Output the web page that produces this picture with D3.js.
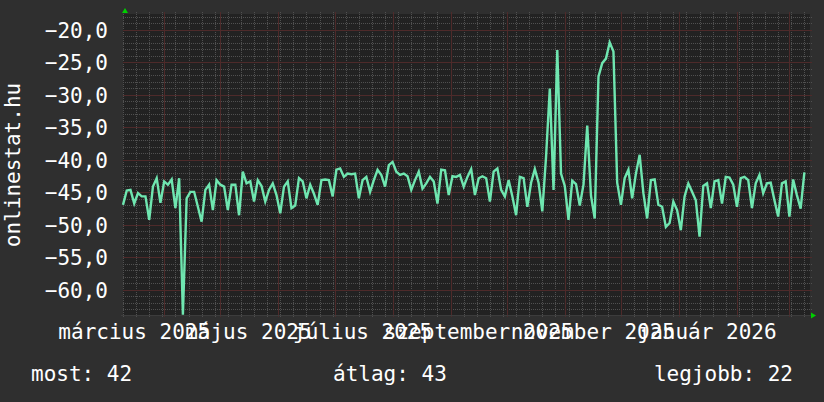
<!DOCTYPE html>
<html>
<head>
<meta charset="utf-8">
<script src="https://cdn.jsdelivr.net/npm/d3@7"></script>
<style>
  html, body { margin: 0; padding: 0; background: #2f2f2f; }
  svg text { font-family: "DejaVu Sans Mono", monospace; fill: #fff; }
</style>
</head>
<body>
<svg width="824" height="402"></svg>
<script>

// first sample date, one sample every 2 days
const startDate = new Date(2025, 2, 10);
const stepDays = 2;

// values (rank, drawn negated)
const rank = [
  -46.9, -44.7, -44.6, -46.7, -45.1, -45.6, -45.6, -49.2, -44.1, -42.8,
  -46.6, -43.3, -43.8, -43.0, -47.4, -42.8, -63.8, -45.9, -44.9, -44.9,
  -47.2, -49.5, -44.6, -43.8, -47.7, -43.1, -43.8, -44.1, -47.7, -43.8,
  -43.8, -48.5, -41.8, -43.6, -43.3, -46.4, -43.1, -44.0, -46.4, -44.6,
  -43.6, -45.4, -48.2, -44.1, -43.3, -47.4, -47.0, -42.8, -43.3, -45.9,
  -43.8, -45.2, -46.9, -43.1, -43.0, -43.1, -45.6, -41.5, -41.3, -42.6,
  -42.1, -42.2, -42.1, -45.9, -43.1, -42.6, -44.9, -43.1, -41.5, -42.3,
  -44.1, -40.8, -40.3, -41.8, -42.3, -42.1, -42.5, -44.6, -43.1, -41.8,
  -44.4, -43.6, -42.6, -43.3, -46.7, -41.5, -41.6, -45.4, -42.5, -42.6,
  -42.3, -44.1, -42.6, -41.4, -45.4, -42.8, -42.5, -42.8, -46.4, -41.8,
  -41.3, -44.6, -45.6, -43.1, -45.6, -48.5, -42.6, -42.8, -47.2, -43.5,
  -41.4, -43.5, -47.9, -39.5, -29.0, -44.6, -23.1, -42.1, -44.0, -49.2,
  -43.2, -43.7, -47.0, -43.8, -34.7, -45.5, -49.0, -27.2, -25.1, -24.4,
  -21.9, -23.3, -43.5, -46.9, -42.8, -41.5, -45.9, -42.1, -39.2, -45.1,
  -49.0, -43.1, -43.0, -46.9, -47.2, -50.3, -49.7, -46.4, -47.7, -50.8,
  -45.6, -43.6, -44.9, -46.2, -51.8, -44.0, -43.6, -47.4, -43.3, -43.1,
  -46.7, -42.6, -42.7, -43.8, -47.2, -42.8, -42.6, -43.1, -47.4, -43.6,
  -42.3, -45.1, -43.6, -43.5, -46.2, -48.7, -43.6, -43.3, -48.7, -43.0,
  -45.4, -47.5, -41.9
];

const yTicks = [-20, -25, -30, -35, -40, -45, -50, -55, -60];

const xLabelMonths = [
  new Date(2025, 2, 1), new Date(2025, 4, 1), new Date(2025, 6, 1),
  new Date(2025, 8, 1), new Date(2025, 10, 1), new Date(2026, 0, 1)
];
const xLabels = ['március 2025', 'május 2025', 'július 2025',
                 'szeptember 2025', 'november 2025', 'január 2026'];

const yTitle = 'onlinestat.hu';
const statLabels = ['most: 42', 'átlag: 43', 'legjobb: 22'];

const data = rank.map((v, i) => ({date: d3.timeDay.offset(startDate, i * stepDays), value: v}));

//--------------LAYOUT---------------------------------------
const plot = {left: 123, right: 810, top: 14, bottom: 315};

const svg = d3.select('svg');

svg.append('rect')
   .attr('width', 824).attr('height', 402)
   .attr('fill', '#2f2f2f');

svg.append('rect')
   .attr('x', plot.left).attr('y', plot.top)
   .attr('width', plot.right - plot.left)
   .attr('height', plot.bottom - plot.top)
   .attr('fill', '#222222');

//--------------SCALES---------------------------------------
const xScale = d3.scaleTime()
                 .domain([new Date(2025, 2, 10), new Date(2026, 2, 12)])
                 .range([plot.left, plot.right]);

const yScale = d3.scaleLinear()
                 .domain([-63.85, -17.54])
                 .range([plot.bottom, plot.top]);

//--------------GRID-----------------------------------------
const grid = svg.append('g').attr('shape-rendering', 'crispEdges');

function hLines(values, color, dash) {
  grid.append('g').selectAll('line')
      .data(values)
      .enter().append('line')
      .attr('x1', plot.left).attr('x2', plot.right + 2)
      .attr('y1', d => Math.round(yScale(d)) + 0.5)
      .attr('y2', d => Math.round(yScale(d)) + 0.5)
      .attr('stroke', color)
      .attr('stroke-dasharray', dash);
}
function vLines(dates, color, dash) {
  grid.append('g').selectAll('line')
      .data(dates)
      .enter().append('line')
      .attr('x1', d => Math.round(xScale(d)) + 0.5)
      .attr('x2', d => Math.round(xScale(d)) + 0.5)
      .attr('y1', plot.top - 2).attr('y2', plot.bottom + 2)
      .attr('stroke', color)
      .attr('stroke-dasharray', dash);
}

const minorY = d3.range(-63, -17).filter(v => v % 5 !== 0);
const weeks = d3.timeMonday.range(xScale.domain()[0], xScale.domain()[1]);
const months = d3.timeMonth.range(xScale.domain()[0], xScale.domain()[1]);

hLines(minorY, '#505050', '1,1');
vLines(weeks, '#505050', '1,1');
hLines(yTicks, '#4e2a2a', null);
vLines(months, '#4e2a2a', null);

//--------------AXES-----------------------------------------
svg.append('line')
   .attr('x1', plot.left - 2).attr('x2', plot.right + 3)
   .attr('y1', plot.bottom + 0.5).attr('y2', plot.bottom + 0.5)
   .attr('stroke', '#3c3c3c');

// arrows
svg.append('path')
   .attr('d', `M${plot.left - 1},${plot.top - 1}L${plot.left + 5},${plot.top - 1}L${plot.left + 2},${plot.top - 6}Z`)
   .attr('fill', '#00d000');
svg.append('path')
   .attr('d', `M${plot.right + 1},${plot.bottom - 2.5}L${plot.right + 1},${plot.bottom + 3.5}L${plot.right + 6},${plot.bottom + 0.5}Z`)
   .attr('fill', '#00d000');

//--------------LINE-----------------------------------------
const line = d3.line()
               .x(d => xScale(d.date))
               .y(d => yScale(d.value));

svg.append('path')
   .datum(data)
   .attr('fill', 'none')
   .attr('stroke', '#6fe6b0')
   .attr('stroke-width', 2.4)
   .attr('stroke-linejoin', 'miter')
   .attr('d', line);

//--------------TEXT-----------------------------------------
const fs = '21px';

svg.selectAll('text.ytick')
   .data(yTicks)
   .enter().append('text')
   .attr('x', 108)
   .attr('y', d => yScale(d))
   .attr('dy', '0.36em')
   .attr('text-anchor', 'end')
   .style('font-size', fs)
   .text(d => d3.format('.1f')(d).replace('.', ','));

svg.append('text')
   .attr('transform', 'translate(20,165) rotate(-90)')
   .attr('text-anchor', 'middle')
   .style('font-size', fs)
   .text(yTitle);

svg.selectAll('text.xlabel')
   .data(xLabelMonths)
   .enter().append('text')
   .attr('x', d => xScale(d3.timeDay.offset(d, 15)))
   .attr('y', 339)
   .attr('text-anchor', 'middle')
   .style('font-size', fs)
   .text((d, i) => xLabels[i]);

svg.append('text')
   .attr('x', 31).attr('y', 381)
   .style('font-size', fs)
   .text(statLabels[0]);
svg.append('text')
   .attr('x', 333).attr('y', 381)
   .style('font-size', fs)
   .text(statLabels[1]);
svg.append('text')
   .attr('x', 793).attr('y', 381)
   .attr('text-anchor', 'end')
   .style('font-size', fs)
   .text(statLabels[2]);

</script>
</body>
</html>
